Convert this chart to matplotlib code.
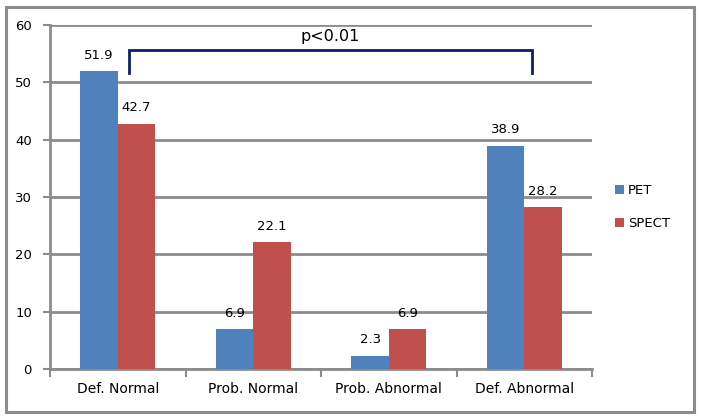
import matplotlib
matplotlib.use("Agg")
import matplotlib.pyplot as plt
import numpy as np
from matplotlib.patches import Rectangle

categories = ["Def. Normal", "Prob. Normal", "Prob. Abnormal", "Def. Abnormal"]
pet = [51.9, 6.9, 2.3, 38.9]
spect = [42.7, 22.1, 6.9, 28.2]
yticks = [0, 10, 20, 30, 40, 50, 60]

plt.rcParams['font.family'] = ['DejaVu Sans']
fig = plt.figure(figsize=(7.01, 4.19), dpi=100)
fig.patches.append(Rectangle((6/701, 7/419), 688/701, 405/419, transform=fig.transFigure,
                             fill=False, edgecolor='#8c8c8c', linewidth=2.2))
ax = fig.add_axes([50/701, 1-369/419, 542/701, 344/419])

x = np.arange(len(categories))
w = 0.275
grid_c = '#8c8c8c'
b1 = ax.bar(x - w/2, pet, w, color='#4F81BD', label='PET', zorder=3)
b2 = ax.bar(x + w/2, spect, w, color='#C0504D', label='SPECT', zorder=3)
for bars, vals in ((b1, pet), (b2, spect)):
    for b, v in zip(bars, vals):
        ax.annotate(f"{v}", (b.get_x() + b.get_width()/2, v), xytext=(0, 7),
                    textcoords='offset points', ha='center', va='bottom', fontsize=9.5, zorder=4)

ax.set_xlim(-0.5, 3.5)
ax.set_ylim(0, 60)
ax.set_yticks(yticks)
ax.yaxis.grid(True, color=grid_c, linewidth=2, zorder=0)
ax.set_axisbelow(True)
ax.set_xticks(x)
ax.set_xticklabels(categories, fontsize=10)
ax.set_xticks([-0.5, 0.5, 1.5, 2.5, 3.5], minor=True)
ax.tick_params(axis='x', which='major', length=0, pad=9)
ax.tick_params(axis='x', which='minor', length=6, width=1.5, color=grid_c, direction='out')
ax.tick_params(axis='y', length=5, width=1.5, color=grid_c, labelsize=9.5, pad=8)
for s in ('top', 'right'):
    ax.spines[s].set_visible(False)
for s in ('left', 'bottom'):
    ax.spines[s].set_color(grid_c)
    ax.spines[s].set_linewidth(2)

# significance bracket
x0 = x[0] + 0.08
x1 = x[3] + 0.06
ax.plot([x0, x0, x1, x1], [51.6, 55.6, 55.6, 51.6], color='#0d1f6b', linewidth=2, zorder=5,
        solid_joinstyle='miter')
ax.text((x0 + x1) / 2, 56.6, "p<0.01", ha='center', va='bottom', fontsize=11.5)

ax.legend(loc='center left', bbox_to_anchor=(1.02, 0.47), frameon=False, fontsize=9.5,
          handlelength=0.7, handleheight=0.7, handletextpad=0.3, labelspacing=1.5)
fig.savefig("out.png", dpi=100)
